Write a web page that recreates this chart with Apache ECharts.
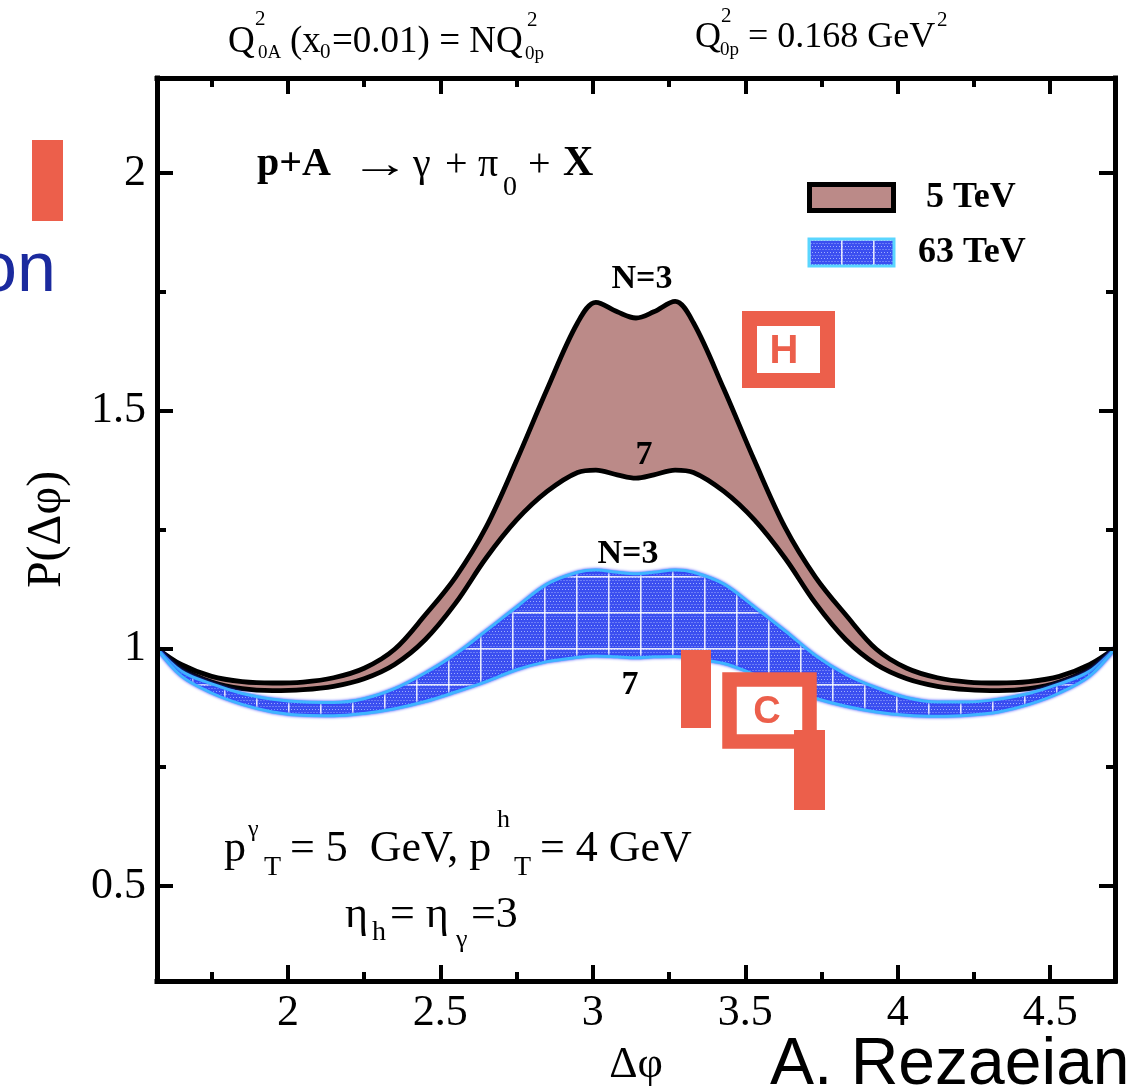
<!DOCTYPE html>
<html><head><meta charset="utf-8">
<script src="https://cdn.jsdelivr.net/npm/echarts@6/dist/echarts.min.js"></script>
<style>html,body{margin:0;padding:0;background:#fff}#c{width:1143px;height:1092px}</style>
</head><body><div id="c"></div>
<script>
// ---- data ----
const phi = [1.5708,1.65,1.75,1.85,1.95,2.05,2.15,2.25,2.35,2.45,2.55,2.65,2.75,2.85,2.95,3.01,3.08,3.1416,3.20,3.27,3.33,3.43,3.53,3.63,3.73,3.83,3.93,4.03,4.13,4.23,4.33,4.43,4.53,4.63,4.7124];
const p5_N3 = [1.000,0.966,0.941,0.930,0.927,0.929,0.938,0.958,0.998,1.070,1.150,1.255,1.395,1.545,1.685,1.728,1.708,1.695,1.708,1.730,1.685,1.545,1.395,1.255,1.150,1.070,0.998,0.958,0.938,0.929,0.927,0.930,0.941,0.966,1.000];
const p5_N7 = [1.000,0.958,0.929,0.915,0.911,0.913,0.920,0.936,0.966,1.018,1.095,1.190,1.270,1.330,1.370,1.375,1.365,1.358,1.365,1.375,1.370,1.330,1.270,1.190,1.095,1.018,0.966,0.936,0.920,0.913,0.911,0.915,0.929,0.958,1.000];
const p63_N3 = [1.000,0.952,0.925,0.905,0.893,0.887,0.886,0.894,0.915,0.948,0.988,1.037,1.087,1.135,1.160,1.165,1.160,1.157,1.160,1.165,1.160,1.135,1.087,1.037,0.985,0.945,0.917,0.896,0.887,0.887,0.893,0.905,0.925,0.952,1.000];
const p63_N7 = [1.000,0.942,0.906,0.882,0.866,0.859,0.858,0.863,0.873,0.888,0.908,0.930,0.955,0.972,0.981,0.984,0.982,0.980,0.982,0.983,0.978,0.968,0.945,0.918,0.895,0.878,0.866,0.859,0.857,0.859,0.866,0.882,0.906,0.942,1.000];
const xMajor = [2,2.5,3,3.5,4,4.5];
const xMinor = [1.75,2.25,2.75,3.25,3.75,4.25];
const yMajor = [0.5,1,1.5,2];
const yMinor = [0.75,1.25,1.75];
const XMIN = Math.PI/2, XMAX = 3*Math.PI/2, YMIN = 0.3, YMAX = 2.2;

const SERIF = '"Liberation Serif", "Times New Roman", serif';
const SANS = '"Liberation Sans", Arial, sans-serif';
const ORANGE = '#ec5f4b';
const ROSY = '#bb8a88';
const CYAN = '#3fb4ff';

function drawPattern(g, w, h){
  g.fillStyle = '#3b4ff0'; g.fillRect(0,0,w,h);
  g.fillStyle = 'rgba(175,190,255,0.85)';
  for (let r = 0; r*3 < h; r++) {
    const off = (r % 2) ? 1.5 : 0;
    for (let x = off; x < w; x += 3) g.fillRect(x, r*3+1, 1, 1);
  }
  g.fillStyle = 'rgba(255,255,255,0.85)';
  for (let x = 0; x < w; x += 32) g.fillRect(x,0,1.6,h);
  for (let y = 0; y < h; y += 36) g.fillRect(0,y,w,1.6);
}
function makeCanvas(w,h){ const c=document.createElement('canvas'); c.width=w; c.height=h; drawPattern(c.getContext('2d'),w,h); return c; }
const pattern = { image: makeCanvas(32,36), repeat: 'repeat' };
const legendSwatch = makeCanvas(85,27);

function pairs(ys){ return phi.map((x,i)=>[x, ys[i]]); }

function xAx(pos, vals, len, label, line){
  return { type:'value', position:pos, min:XMIN, max:XMAX, z:10,
    axisLine:{show:line, onZero:false, lineStyle:{color:'#000', width:5, cap:'square'}},
    axisTick:{show:true, inside:true, length:len, customValues:vals, lineStyle:{color:'#000', width:4}},
    axisLabel: label ? {show:true, customValues:vals, margin:10, color:'#000', fontSize:44, fontFamily:SERIF, formatter:v=>String(v)} : {show:false},
    splitLine:{show:false} };
}
function yAx(pos, vals, len, label, line){
  return { type:'value', position:pos, min:YMIN, max:YMAX, z:10,
    axisLine:{show:line, onZero:false, lineStyle:{color:'#000', width:5, cap:'square'}},
    axisTick:{show:true, inside:true, length:len, customValues:vals, lineStyle:{color:'#000', width:4}},
    axisLabel: label ? {show:true, customValues:vals, margin:11, color:'#000', fontSize:44, fontFamily:SERIF, formatter:v=>String(v)} : {show:false},
    splitLine:{show:false} };
}

function tx(text, x, y, size, o){
  o = o || {};
  return { type:'text', x:x, y:y, z:100, rotation:o.rot||0, scaleX:o.sx||1,
    style:{ text:text, fill:o.fill||'#000',
      font:(o.weight||'normal')+' '+size+'px '+(o.family||SERIF),
      align:o.align||'left', verticalAlign:'middle', textAlign:o.align||'left', textVerticalAlign:'middle' } };
}
function rect(x,y,w,h,fill,stroke,lw){
  return { type:'rect', z:100, shape:{x:x,y:y,width:w,height:h}, style:{fill:fill||'none', stroke:stroke||'none', lineWidth:lw||0} };
}

const chart = echarts.init(document.getElementById('c'), null, {renderer:'canvas'});
const xAxis = [
  Object.assign(xAx('bottom', xMajor, 16, true, true), {name:'Δφ', nameLocation:'middle', nameGap:62, nameTextStyle:{fontSize:44, fontFamily:SERIF, color:'#000'}}),
  xAx('bottom', xMinor, 9, false, false),
  xAx('top', xMajor, 16, false, true),
  xAx('top', xMinor, 9, false, false)
];
const yAxis = [
  Object.assign(yAx('left', yMajor, 16, true, true), {name:'P(Δφ)', nameLocation:'middle', nameRotate:90, nameGap:86, nameTextStyle:{fontSize:48, fontFamily:SERIF, color:'#000'}}),
  yAx('left', yMinor, 9, false, false),
  yAx('right', yMajor, 16, false, true),
  yAx('right', yMinor, 9, false, false)
];

const base = {type:'line', xAxisIndex:0, yAxisIndex:0, smooth:0.35, symbol:'none', animation:false, silent:true};
function areaS(name, ys, fill){ return Object.assign({}, base, {name:name, data:pairs(ys), z:2, lineStyle:{width:0, opacity:0}, areaStyle:{color:fill, opacity:1, origin:'start'}}); }
function lineS(name, ys, color, w, glow){ return Object.assign({}, base, {name:name, data:pairs(ys), z:3, lineStyle: glow ? {color:color, width:w, shadowColor:'#2a3cff', shadowBlur:3} : {color:color, width:w}}); }
// bands: upper area filled with the band colour, lower area masked back to white
const series = [
  areaS('5 TeV', p5_N3, ROSY),
  areaS('5 TeV mask', p5_N7, '#fff'),
  areaS('63 TeV', p63_N3, pattern),
  areaS('63 TeV mask', p63_N7, '#fff'),
  lineS('5 TeV N=3', p5_N3, '#000', 4.8),
  lineS('5 TeV N=7', p5_N7, '#000', 4.8),
  lineS('63 TeV N=3', p63_N3, CYAN, 3, true),
  lineS('63 TeV N=7', p63_N7, CYAN, 3, true)
];

const graphics = [
  // top formulas
  tx('Q', 228, 42, 37), tx('2', 255, 19, 21), tx('0A', 258, 53, 19),
  tx('(x', 290, 42, 37), tx('0', 320, 52, 21), tx('=0.01) = NQ', 332, 42, 37),
  tx('2', 527, 20, 21), tx('0p', 525, 54, 19),
  tx('Q', 695, 38, 36), tx('2', 721, 16, 21), tx('0p', 720, 50, 19),
  tx('= 0.168 GeV', 748, 38, 36), tx('2', 937, 20, 21),
  // reaction
  tx('p+A', 257, 165, 40, {weight:'bold'}),
  tx('→', 350, 166, 40, {sx:1.5}),
  tx('γ', 413, 165, 40), tx('+', 445, 165, 40), tx('π', 478, 165, 40),
  tx('0', 503, 188, 28), tx('+', 528, 165, 40), tx('X', 563, 164, 42, {weight:'bold'}),
  // curve labels
  tx('N=3', 642, 279, 34, {weight:'bold', align:'center'}),
  tx('7', 644, 455, 34, {weight:'bold', align:'center'}),
  tx('N=3', 628, 554, 34, {weight:'bold', align:'center'}),
  tx('7', 630, 685, 34, {weight:'bold', align:'center'}),
  // legend
  rect(809.5, 184.5, 84, 26, ROSY, '#000', 5),
  tx('5 TeV', 926, 198, 36, {weight:'bold'}),
  { type:'image', z:100, style:{image:legendSwatch, x:809, y:239, width:85, height:27} },
  rect(809, 239, 85, 27, 'none', '#5ad6ff', 3),
  tx('63 TeV', 918, 253, 36, {weight:'bold'}),
  // kinematics
  tx('p', 224, 849, 44), tx('γ', 248, 830, 24), tx('T', 264, 868, 28),
  tx('= 5  GeV, p', 290, 849, 44), tx('h', 497, 820, 26), tx('T', 514, 868, 28),
  tx('= 4 GeV', 540, 849, 44),
  tx('η', 345, 915, 44), tx('h', 372, 933, 28), tx('= η', 390, 915, 44),
  tx('γ', 456, 940, 26), tx('=3', 471, 915, 44),
  // slide overlays
  rect(32, 140, 31, 81, ORANGE),
  tx('on', -22, 272, 70, {family:SANS, fill:'#1b2a9e'}),
  rect(749.5, 318.5, 78, 62, '#fff', ORANGE, 15),
  tx('H', 784, 352, 40, {family:SANS, weight:'bold', fill:ORANGE, align:'center'}),
  rect(681, 650, 30, 78, ORANGE),
  rect(729.5, 679.5, 80, 62, '#fff', ORANGE, 14.5),
  tx('C', 767, 713, 38, {family:SANS, weight:'bold', fill:ORANGE, align:'center'}),
  rect(794, 730, 31, 80, ORANGE),
  tx('A. Rezaeian', 770, 1066, 66, {family:SANS})
];

chart.setOption({
  backgroundColor:'#fff',
  animation:false,
  grid:{left:157, right:28, top:78, bottom:110, containLabel:false},
  xAxis:xAxis, yAxis:yAxis, series:series, graphic:graphics
});
</script></body></html>
